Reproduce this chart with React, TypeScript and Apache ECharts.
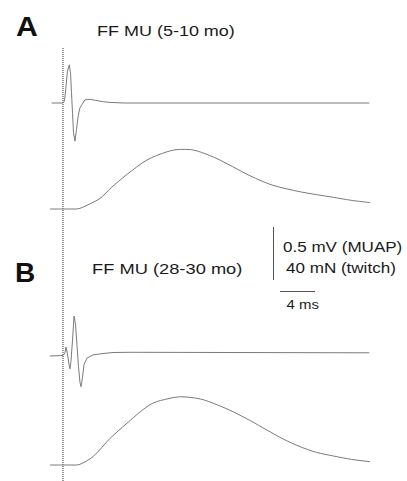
import React, { useEffect, useRef } from "react";
import * as echarts from "echarts";

// time in ms relative to the trigger (dotted line)
const muapATime = [-1.3, 0, 0.17, 0.34, 0.51, 0.72, 0.86, 0.97, 1.09, 1.2, 1.37, 1.54, 1.74, 1.94, 2.2, 2.51, 3.09, 3.7, 4.6, 5.5, 7, 35];
const muapAValue = [0, 0, 0.02, 0.15, 0.3, 0.36, 0.28, 0.1, -0.1, -0.28, -0.36, -0.25, -0.12, -0.045, -0.01, 0.03, 0.035, 0.025, 0.012, 0.005, 0, 0];

const twitchATime = [-1.5, 0, 1.4, 1.94, 2.74, 4.23, 5.5, 7.3, 9.6, 11.9, 13.4, 14.6, 15.8, 17.6, 19.4, 21.4, 23.9, 27.1, 30.9, 32.9, 35.1];
const twitchAValue = [0, 0, 0, 0.5, 2.8, 8, 16, 26, 37, 43.2, 45, 44.8, 42.8, 38, 31.9, 25, 18.1, 13, 8.8, 6.6, 4.8];

const muapBTime = [-1.5, 0, 0.23, 0.34, 0.51, 0.69, 0.8, 0.91, 1.09, 1.26, 1.43, 1.6, 1.77, 1.94, 2.06, 2.23, 2.4, 2.74, 3.43, 4.23, 5.71, 7.66, 35];
const muapBValue = [0, 0.005, 0.03, 0.085, 0.02, -0.08, -0.12, -0.05, 0.15, 0.377, 0.3, 0.1, -0.1, -0.25, -0.29, -0.2, -0.08, -0.02, 0.01, 0.02, 0.033, 0.035, 0.03];

const twitchBTime = [-1.5, 0, 1.4, 1.94, 3.43, 5.37, 7.31, 8.9, 10.3, 12, 13.4, 15.7, 17.6, 19.4, 21.4, 23.3, 25.2, 27.1, 29, 30.9, 33, 35.1];
const twitchBValue = [0, 0, 0, 0.5, 6.3, 20, 31.5, 40.5, 46.8, 50, 51.5, 49.8, 45.5, 40.3, 33.5, 26.4, 19.5, 13.8, 9.5, 6.8, 4.2, 2.5];

const titleA = "FF MU (5-10 mo)";
const titleB = "FF MU (28-30 mo)";
const scaleLabels = ["0.5 mV (MUAP)", "40 mN (twitch)", "4 ms"];

const zip = (t: number[], v: number[]) => t.map((x, i) => [x, v[i]]);

const X_MIN = -1.5;
const X_MAX = 35;
const GRID_LEFT = 49.875;
const GRID_W = 319.375;
const TRACE = "#7a7a7a";

export default function App() {
  const ref = useRef<HTMLDivElement>(null);
  useEffect(() => {
    if (!ref.current) return;
    const chart = echarts.init(ref.current, undefined, { renderer: "svg" });
    const grids = [
      { top: 60.6, height: 84.8 },
      { top: 142.75, height: 66.25 },
      { top: 313.6, height: 84.8 },
      { top: 385.5, height: 79.5 },
      { top: 48, height: 433 },
    ].map((g) => ({ left: GRID_LEFT, width: GRID_W, top: g.top, height: g.height, containLabel: false }));
    const yRanges = [
      [-0.4, 0.4],
      [0, 50],
      [-0.4, 0.4],
      [0, 60],
      [0, 1],
    ];
    const xAxes = grids.map((_, i) => ({
      type: "value",
      gridIndex: i,
      min: X_MIN,
      max: X_MAX,
      show: false,
    }));
    const yAxes = yRanges.map((r, i) => ({
      type: "value",
      gridIndex: i,
      min: r[0],
      max: r[1],
      show: false,
    }));
    const lineSeries = (idx: number, data: number[][], smooth: number | boolean) => ({
      type: "line",
      xAxisIndex: idx,
      yAxisIndex: idx,
      data,
      smooth,
      symbol: "none",
      clip: false,
      lineStyle: { color: TRACE, width: 1 },
    });
    const txt = (x: number, y: number, text: string, size: number, weight: string, sx: number, color = "#1a1a1a") => ({
      type: "text",
      x,
      y,
      scaleX: sx,
      style: {
        text,
        fill: color,
        font: `${weight} ${size}px "Liberation Sans", Arial, sans-serif`,
        textVerticalAlign: "middle",
        verticalAlign: "middle",
      },
    });
    chart.setOption({
      animation: false,
      grid: grids,
      xAxis: xAxes,
      yAxis: yAxes,
      series: [
        {
          type: "line",
          xAxisIndex: 4,
          yAxisIndex: 4,
          data: [
            [0, 0],
            [0, 1],
          ],
          symbol: "none",
          lineStyle: { color: "#333", width: 1, type: [1, 1] },
        },
        lineSeries(0, zip(muapATime, muapAValue), false),
        lineSeries(1, zip(twitchATime, twitchAValue), 0.3),
        lineSeries(2, zip(muapBTime, muapBValue), false),
        lineSeries(3, zip(twitchBTime, twitchBValue), 0.3),
      ],
      graphic: [
        txt(16, 26, "A", 28, "bold", 1.08, "#111"),
        txt(97, 31, titleA, 15, "normal", 1.2),
        txt(15, 272, "B", 28, "bold", 1.0, "#111"),
        txt(92, 269, titleB, 15, "normal", 1.22),
        {
          type: "line",
          shape: { x1: 273.5, y1: 227, x2: 273.5, y2: 280 },
          style: { stroke: "#555", lineWidth: 1 },
        },
        {
          type: "line",
          shape: { x1: 280, y1: 291.5, x2: 315, y2: 291.5 },
          style: { stroke: "#555", lineWidth: 1 },
        },
        txt(283, 246, scaleLabels[0], 15.5, "normal", 1.1),
        txt(286, 267.5, scaleLabels[1], 15.5, "normal", 1.1),
        txt(286.5, 304.5, scaleLabels[2], 13, "normal", 1.15),
      ],
    });
    return () => chart.dispose();
  }, []);
  return <div ref={ref} style={{ width: 407, height: 481, position: "absolute", left: 0, top: 0 }} />;
}
